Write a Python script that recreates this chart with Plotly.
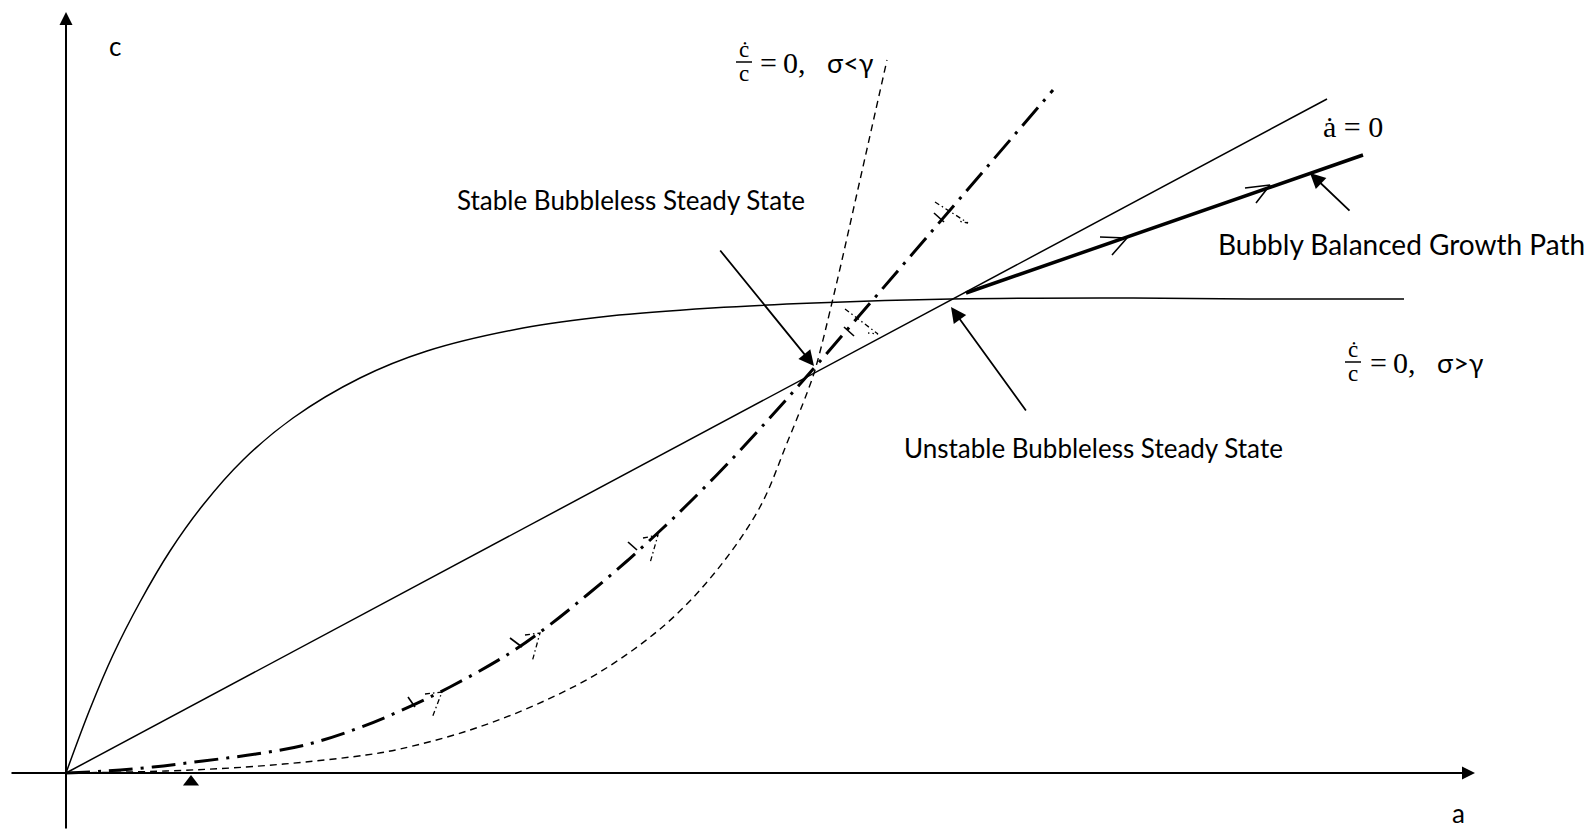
import plotly.graph_objects as go

# ---- diagram coordinates (a to the right, c upward; origin at the axes' crossing) ----
# c-dot/c = 0 with sigma > gamma (concave, solid)
conc_a = [0, 24, 47, 74, 104, 137, 177, 227, 294, 361, 457, 544, 646, 748, 885, 1034, 1184, 1338]
conc_c = [0, 64, 118, 171, 222, 268, 313, 355, 395, 422, 445, 457, 465, 470, 474, 475, 474, 474]

# a-dot = 0 (straight solid line)
adot_a = [0, 1261]
adot_c = [0, 674]

# c-dot/c = 0 with sigma < gamma (convex, dashed)
conv_a = [0, 100, 180, 239, 300, 334, 401, 467, 534, 601, 651, 694, 721, 741, 749, 769, 794, 821]
conv_c = [0, 2, 6, 11, 18, 24, 42, 67, 101, 150, 203, 266, 330, 380, 403, 483, 593, 713]

# saddle path (dash-dot)
sad_a = [0, 41, 87, 137, 190, 239, 290, 334, 384, 444, 481, 521, 561, 597, 627, 667, 701, 727, 749, 987]
sad_c = [0, 2, 6, 12, 19, 28, 44, 62, 86, 120, 146, 178, 212, 245, 274, 315, 352, 381, 406, 683]

# bubbly balanced growth path (thick)
bub_a = [900, 1297]
bub_c = [480, 618]

# direction heads on the saddle path
dd_tip_a = [376, 474, 592, 812, 902]
dd_tip_c = [81, 140, 238, 439, 550]
dd_arm1_a = [359, 459, 577, 779, 869]
dd_arm1_c = [79, 138, 235, 464, 571]
dd_arm2_a = [366, 466, 584, 802, 892]
dd_arm2_c = [55, 111, 210, 440, 552]
dd_tick_a0 = [342, 444, 562, 778, 868]
dd_tick_c0 = [76, 135, 231, 446, 560]
dd_tick_a1 = [349, 456, 571, 788, 878]
dd_tick_c1 = [66, 126, 223, 437, 551]

# direction heads on the bubbly path
bh_tip_a = [1061, 1204]
bh_tip_c = [535, 588]
bh_arm1_a = [1034, 1179]
bh_arm1_c = [536, 585]
bh_arm2_a = [1046, 1190]
bh_arm2_c = [518, 570]

# axes extents
x_axis_a = [-56, 1409]
y_axis_c = [-57, 761]

# marker on the a axis
tri_a = [125]
tri_c = [-9]

# pointer arrows: (tail, head)
ptr_labels = ["stable", "unstable", "bubbly"]
ptr_tail_a = [653, 961, 1285]
ptr_tail_c = [524, 361, 561]
ptr_head_a = [748, 885, 1244]
ptr_head_c = [407, 466, 600]

# text labels
txt = ["c", "a", "Stable Bubbleless Steady State", "Unstable Bubbleless Steady State",
       "Bubbly Balanced Growth Path"]
txt_a = [49, 1392, 565, 1027, 1335]
txt_c = [727, -40, 573, 325, 529]
txt_size = [26, 26, 26, 26, 28]

# math labels
frac_a = [678, 1287]        # fraction centre
frac_c = [711, 411]
frac_eq = ["=\u20090,", "=\u20090,"]
frac_eq_a = [692, 1302]
frac_cond = ["\u03c3<\u03b3", "\u03c3>\u03b3"]
frac_cond_a = [759, 1369]
adot_lbl = "\u0227 = 0"
adot_lbl_a = [1255]
adot_lbl_c = [647]

BLACK = "#000000"
fig = go.Figure()

def seg_trace(xs, ys, width, dash="solid", shape="linear"):
    fig.add_trace(go.Scatter(x=xs, y=ys, mode="lines", hoverinfo="skip",
                             line=dict(color=BLACK, width=width, dash=dash, shape=shape)))

seg_trace(conc_a, conc_c, 1.5, shape="spline")
seg_trace(adot_a, adot_c, 1.5)
seg_trace(conv_a, conv_c, 1.4, "7px,5px", shape="spline")
seg_trace(sad_a, sad_c, 3, "24px,8px,3px,8px", shape="spline")
seg_trace(bub_a, bub_c, 3.5)

# saddle path heads
hx, hy = [], []
for i in range(len(dd_tip_a)):
    hx += [dd_arm1_a[i], dd_tip_a[i], dd_arm2_a[i], None]
    hy += [dd_arm1_c[i], dd_tip_c[i], dd_arm2_c[i], None]
seg_trace(hx, hy, 1.3, "5px,3px,1.5px,3px")
tx, ty = [], []
for i in range(len(dd_tick_a0)):
    tx += [dd_tick_a0[i], dd_tick_a1[i], None]
    ty += [dd_tick_c0[i], dd_tick_c1[i], None]
seg_trace(tx, ty, 1.6)

# bubbly path heads
bx, by = [], []
for i in range(len(bh_tip_a)):
    bx += [bh_arm1_a[i], bh_tip_a[i], bh_arm2_a[i], None]
    by += [bh_arm1_c[i], bh_tip_c[i], bh_arm2_c[i], None]
seg_trace(bx, by, 1.6)

# triangle marker
fig.add_trace(go.Scatter(x=tri_a, y=tri_c, mode="markers", hoverinfo="skip",
                         marker=dict(symbol="triangle-up", size=14, color=BLACK)))

# axes as arrows
fig.add_annotation(x=x_axis_a[1], y=0, ax=x_axis_a[0], ay=0, axref="x", ayref="y",
                   text="", showarrow=True, arrowhead=2, arrowsize=1.3, arrowwidth=2,
                   arrowcolor=BLACK, standoff=0)
fig.add_annotation(x=0, y=y_axis_c[1], ax=0, ay=y_axis_c[0], axref="x", ayref="y",
                   text="", showarrow=True, arrowhead=2, arrowsize=1.3, arrowwidth=2,
                   arrowcolor=BLACK, standoff=0)

# pointer arrows
for i in range(len(ptr_labels)):
    fig.add_annotation(x=ptr_head_a[i], y=ptr_head_c[i], ax=ptr_tail_a[i], ay=ptr_tail_c[i],
                       axref="x", ayref="y", text="", showarrow=True, arrowhead=2,
                       arrowsize=1.7, arrowwidth=1.8, arrowcolor=BLACK, standoff=0)

# text labels
for t, a, c, s in zip(txt, txt_a, txt_c, txt_size):
    fig.add_annotation(x=a, y=c, text=t, showarrow=False, xanchor="center", yanchor="middle",
                       borderpad=0, font=dict(family="Lato", size=s, color=BLACK))

# math labels
for i in range(len(frac_a)):
    fig.add_annotation(x=frac_a[i], y=frac_c[i] + 13, text="\u010b", showarrow=False,
                       font=dict(family="Liberation Serif", size=23, color=BLACK))
    fig.add_annotation(x=frac_a[i], y=frac_c[i] - 11, text="c", showarrow=False,
                       font=dict(family="Liberation Serif", size=23, color=BLACK))
    fig.add_shape(type="line", x0=frac_a[i] - 8, x1=frac_a[i] + 8, y0=frac_c[i], y1=frac_c[i],
                  line=dict(color=BLACK, width=1.5))
    fig.add_annotation(x=frac_eq_a[i], y=frac_c[i], text=frac_eq[i], showarrow=False,
                       xanchor="left", yanchor="middle",
                       font=dict(family="Liberation Serif", size=30, color=BLACK))
    fig.add_annotation(x=frac_cond_a[i], y=frac_c[i], text=frac_cond[i], showarrow=False,
                       xanchor="left", yanchor="middle",
                       font=dict(family="Lato", size=27, color=BLACK))
fig.add_annotation(x=adot_lbl_a[0], y=adot_lbl_c[0], text=adot_lbl, showarrow=False,
                   xanchor="left", yanchor="middle",
                   font=dict(family="Liberation Serif", size=30, color=BLACK))

fig.update_layout(width=1595, height=830, margin=dict(l=0, r=0, t=0, b=0),
                  paper_bgcolor="white", plot_bgcolor="white", showlegend=False,
                  xaxis=dict(range=[-66, 1529], visible=False, fixedrange=True),
                  yaxis=dict(range=[-57, 773], visible=False, fixedrange=True))

fig.write_html("out.html", config={"displayModeBar": False},
               post_script="document.body.style.margin='0';document.body.style.overflow='hidden';")
